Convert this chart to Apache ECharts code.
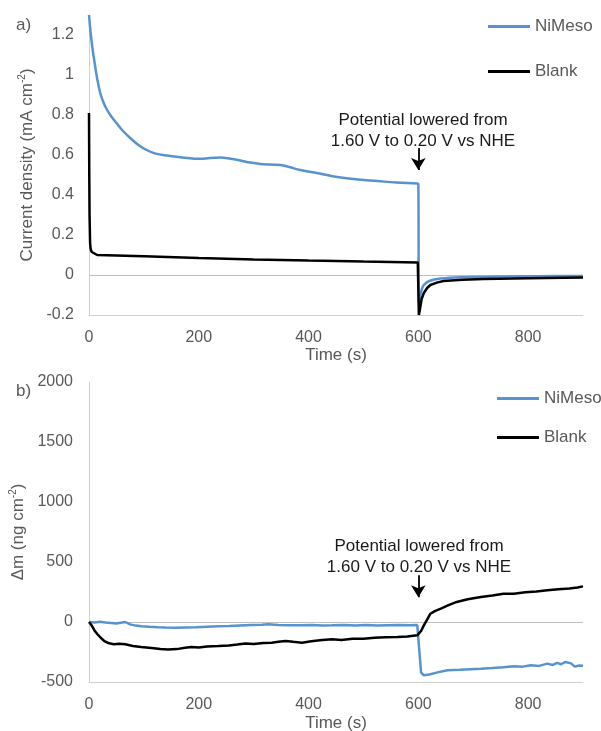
<!DOCTYPE html>
<html>
<head>
<meta charset="utf-8">
<script src="https://cdn.jsdelivr.net/npm/echarts@6/dist/echarts.min.js"></script>
<style>html,body{margin:0;padding:0;background:#fff}#c{width:601px;height:731px}</style>
</head>
<body>
<div id="c"></div>
<script>
// ---- Panel a) current density (mA cm-2) vs time (s)
const tNiA = [0,3,6,10,15,20,26,33,40,50,62,75,90,105,120,142,170,203,220,239,258,276,294,312,330,349,365,385,420,452,490,525,560,598,600,601,603,606,610,620,640,680,750,820,900];
const vNiA = [1.30,1.21,1.14,1.065,0.98,0.915,0.865,0.825,0.795,0.76,0.72,0.685,0.65,0.625,0.608,0.597,0.588,0.581,0.585,0.587,0.581,0.572,0.562,0.555,0.552,0.55,0.54,0.525,0.508,0.49,0.478,0.47,0.462,0.457,0.455,-0.14,-0.11,-0.075,-0.05,-0.03,-0.018,-0.011,-0.008,-0.006,-0.005];
const tBlA = [0,0.5,1,2,3,5,8,15,50,100,200,300,400,500,599,600,601,603,606,610,616,622,635,646,680,719,800,900];
const vBlA = [0.81,0.5,0.3,0.16,0.13,0.115,0.105,0.10,0.098,0.094,0.085,0.078,0.072,0.067,0.063,0.063,-0.2,-0.17,-0.12,-0.09,-0.065,-0.05,-0.037,-0.03,-0.024,-0.02,-0.016,-0.013];
// ---- Panel b) mass change (ng cm-2) vs time (s)
const tNiB = [0,10,20,30,40,50,60,66,75,85,96,110,125,140,157,175,195,215,236,255,275,295,315,327,345,365,385,405,425,443,465,485,505,525,545,565,585,598,600,602,605,610,620,635,653,675,695,714,735,755,774,790,805,820,835,845,853,860,868,878,885,893,900];
const vNiB = [0,-5,2,-4,-8,-12,-5,0,-20,-30,-36,-40,-44,-46,-47,-45,-44,-40,-36,-34,-30,-26,-22,-19,-24,-27,-28,-26,-30,-28,-25,-29,-26,-30,-27,-25,-28,-26,-30,-250,-420,-444,-438,-420,-402,-398,-393,-389,-384,-378,-369,-372,-360,-366,-347,-358,-340,-352,-333,-345,-372,-362,-365];
const tBlB = [0,5,10,15,20,28,35,45,55,66,80,95,114,130,144,160,175,187,200,215,236,255,270,285,300,318,333,345,358,372,388,405,425,443,460,480,500,520,540,562,580,598,600,605,610,616,622,630,641,655,670,690,714,735,755,774,795,815,835,855,875,890,900];
const vBlB = [0,-30,-70,-100,-125,-160,-175,-185,-182,-186,-200,-208,-216,-225,-230,-226,-215,-208,-212,-205,-200,-195,-188,-180,-183,-175,-172,-165,-158,-165,-172,-160,-150,-144,-150,-140,-139,-132,-128,-125,-120,-111,-105,-75,-28,20,69,90,111,140,167,190,208,220,236,236,248,255,264,272,280,288,297];

const seriesNames = ['NiMeso','Blank'];
const xTicksMax = 900, xInterval = 200;
const annotation = 'Potential lowered from\n1.60 V to 0.20 V vs NHE';
const arrowA = [0.635, 0.525];
const arrowB = [389, 206];
const switchTime = 600;

const BLUE = '#5793CE', BLACK = '#000000', GRAY_TXT = '#595959', AXIS = '#D0D0D0';
const FONT = 'Liberation Sans, Arial, sans-serif';
const TICK_FS = 16, TEXT_FS = 17;
const zip = (t, v) => t.map((x, i) => [x, v[i]]);

const chart = echarts.init(document.getElementById('c'), null, {renderer: 'canvas'});

function xAxisCfg(gi, gap) {
  return {
    type: 'value', gridIndex: gi, min: 0, max: xTicksMax, interval: xInterval,
    name: 'Time (s)', nameLocation: 'middle', nameGap: gap,
    nameTextStyle: {color: GRAY_TXT, fontSize: TEXT_FS, fontFamily: FONT},
    axisLine: {show: true, onZero: false, lineStyle: {color: AXIS, width: 1}},
    axisTick: {show: false}, splitLine: {show: false},
    axisLabel: {color: GRAY_TXT, fontSize: TICK_FS, fontFamily: FONT, margin: 15, showMaxLabel: false}
  };
}
const supRich = {
  n: {color: GRAY_TXT, fontSize: TEXT_FS, fontFamily: FONT},
  s: {color: GRAY_TXT, fontSize: 10, fontFamily: FONT, padding: [0, 0, 9, 0]}
};

function zeroLine() {
  return {silent: true, symbol: 'none', label: {show: false},
    lineStyle: {color: '#BFBFBF', width: 1, type: 'solid'}, data: [{yAxis: 0}], z: 1};
}
function arrowLine(a, b) {
  return {silent: true, symbol: ['none', 'arrow'], symbolSize: [11, 12], label: {show: false},
    lineStyle: {color: BLACK, width: 1.8, type: 'solid'},
    data: [[{coord: [switchTime, a]}, {coord: [switchTime, b]}]]};
}
function legendCfg(left, top, gap) {
  return {data: seriesNames, orient: 'vertical', left: left, top: top, padding: 0, icon: 'rect',
    itemWidth: 42, itemHeight: 3, itemGap: gap, selectedMode: false,
    textStyle: {color: GRAY_TXT, fontSize: TEXT_FS, fontFamily: FONT}};
}
function yLabel(extra) {
  return Object.assign({color: GRAY_TXT, fontSize: TICK_FS, fontFamily: FONT, padding: [6, 0, 0, 0]}, extra);
}

const option = {
  animation: false,
  backgroundColor: '#fff',
  textStyle: {fontFamily: FONT},
  grid: [
    {left: 89, right: 18, top: 15, height: 300, containLabel: false, outerBoundsMode: 'none'},
    {left: 89, right: 18, top: 382, height: 300, containLabel: false, outerBoundsMode: 'none'}
  ],
  legend: [legendCfg(488, 18, 28), legendCfg(497, 390, 22)],
  xAxis: [xAxisCfg(0, 31), xAxisCfg(1, 33)],
  yAxis: [
    {type: 'value', gridIndex: 0, min: -0.2, max: 1.3, interval: 0.2,
     name: '{n|Current density (mA cm}{s|-2}{n|)}', nameLocation: 'middle', nameGap: 44,
     nameTextStyle: {rich: supRich},
     axisLine: {show: true, lineStyle: {color: AXIS, width: 1}}, axisTick: {show: false}, splitLine: {show: false},
     axisLabel: yLabel({margin: 15, showMaxLabel: false, formatter: v => String(+v.toFixed(1))})},
    {type: 'value', gridIndex: 1, min: -500, max: 2000, interval: 500,
     name: '{n|Δm (ng cm}{s|-2}{n|)}', nameLocation: 'middle', nameGap: 50,
     nameTextStyle: {rich: supRich},
     axisLine: {show: true, lineStyle: {color: AXIS, width: 1}}, axisTick: {show: false}, splitLine: {show: false},
     axisLabel: yLabel({margin: 16, formatter: v => String(Math.round(v))})}
  ],
  series: [
    {name: 'NiMeso', type: 'line', xAxisIndex: 0, yAxisIndex: 0, data: zip(tNiA, vNiA), showSymbol: false,
     smooth: 0.4, color: BLUE, lineStyle: {color: BLUE, width: 2.5}, z: 2,
     markLine: zeroLine()},
    {name: 'Blank', type: 'line', xAxisIndex: 0, yAxisIndex: 0, data: zip(tBlA, vBlA), showSymbol: false,
     color: BLACK, lineStyle: {color: BLACK, width: 2.5}, z: 3,
     markLine: arrowLine(arrowA[0], arrowA[1])},
    {name: 'NiMeso', type: 'line', xAxisIndex: 1, yAxisIndex: 1, data: zip(tNiB, vNiB), showSymbol: false,
     color: BLUE, lineStyle: {color: BLUE, width: 2.5}, z: 2, markLine: zeroLine()},
    {name: 'Blank', type: 'line', xAxisIndex: 1, yAxisIndex: 1, data: zip(tBlB, vBlB), showSymbol: false,
     color: BLACK, lineStyle: {color: BLACK, width: 2.5}, z: 3,
     markLine: arrowLine(arrowB[0], arrowB[1])}
  ],
  graphic: [
    {type: 'text', left: 16, top: 17, style: {text: 'a)', fill: GRAY_TXT, font: TEXT_FS + 'px ' + FONT}},
    {type: 'text', left: 16, top: 383, style: {text: 'b)', fill: GRAY_TXT, font: TEXT_FS + 'px ' + FONT}},
    {type: 'text', x: 423, y: 109.5, style: {text: annotation, fill: '#1a1a1a', font: TEXT_FS + 'px ' + FONT,
      textAlign: 'center', lineHeight: 21}},
    {type: 'text', x: 419, y: 536, style: {text: annotation, fill: '#1a1a1a', font: TEXT_FS + 'px ' + FONT,
      textAlign: 'center', lineHeight: 21}}
  ]
};
chart.setOption(option);
</script>
</body>
</html>
